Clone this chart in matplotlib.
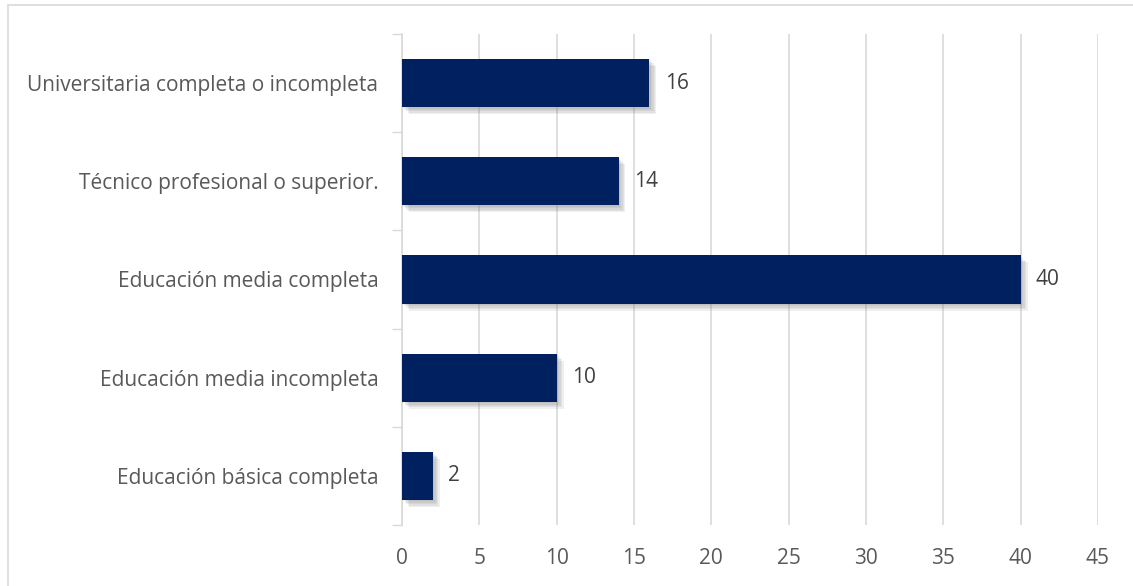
import matplotlib.pyplot as plt
import matplotlib.patheffects as pe
from matplotlib.patches import Rectangle

plt.rcParams['font.family'] = ['Open Sans', 'DejaVu Sans']

niveles = ['Educación básica completa', 'Educación media incompleta',
           'Educación media completa', 'Técnico profesional o superior.',
           'Universitaria completa o incompleta']
cantidades = [2, 10, 40, 14, 16]
ticks_x = [0, 5, 10, 15, 20, 25, 30, 35, 40, 45]

fig = plt.figure(figsize=(11.33, 5.86), dpi=100)
ax = fig.add_axes([402 / 1133, 1 - 525 / 586, 696 / 1133, 491 / 586])

pos = range(len(niveles))
bars = ax.barh(pos, cantidades, height=0.49, color='#002060', zorder=3)

# soft drop shadow: a few stacked faint offsets
sombra = [pe.SimplePatchShadow(offset=(d, -d), shadow_rgbFace='#7f7f7f', alpha=0.12)
          for d in (1, 2, 3, 4, 5)]
for b in bars:
    b.set_path_effects(sombra + [pe.Normal()])

for y, v in zip(pos, cantidades):
    ax.annotate(str(v), (v, y), xytext=(11, 0), textcoords='offset points',
                va='center', ha='left', fontsize=15, color='#404040')

ax.set_xlim(0, 45)
ax.set_ylim(-0.5, len(niveles) - 0.5)
ax.set_xticks(ticks_x)
ax.set_xticklabels([str(t) for t in ticks_x])
ax.set_yticks(list(pos))
ax.set_yticklabels(niveles)
ax.set_yticks([i - 0.5 for i in range(len(niveles) + 1)], minor=True)

ax.tick_params(axis='x', length=0, pad=16.5, labelsize=15, labelcolor='#595959')
ax.tick_params(axis='y', which='major', length=0, pad=17, labelsize=15, labelcolor='#595959')
ax.tick_params(axis='y', which='minor', length=7, width=1, color='#d9d9d9')

ax.grid(axis='x', color='#d9d9d9', linewidth=1.2, zorder=0)
for s in ['top', 'right', 'bottom']:
    ax.spines[s].set_visible(False)
ax.spines['left'].set_color('#d9d9d9')
ax.spines['left'].set_linewidth(1.2)

fig.patches.append(Rectangle((8 / 1133, -0.05), 1.2, 0.05 + 1 - 5 / 586,
                             transform=fig.transFigure, fill=False,
                             edgecolor='#d9d9d9', linewidth=1.2))

fig.savefig('out.png', dpi=100)
